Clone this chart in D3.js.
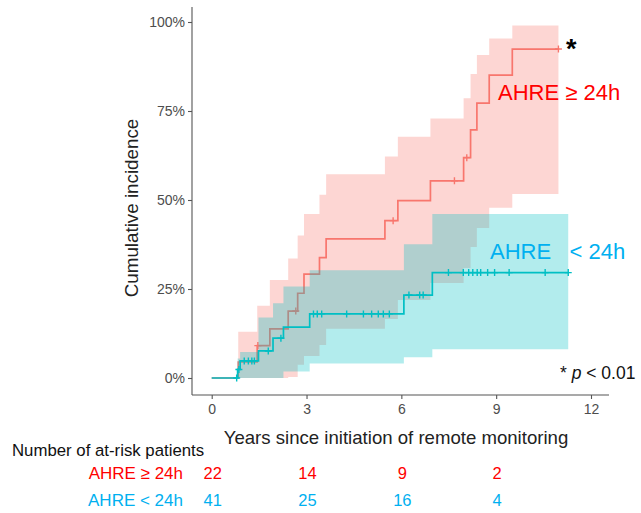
<!DOCTYPE html>
<html>
<head>
<meta charset="utf-8">
<script src="https://cdn.jsdelivr.net/npm/d3@7"></script>
<style>
  body { margin: 0; background: #fff; }
  svg { font-family: Arial, "Liberation Sans", sans-serif; }
</style>
</head>
<body>
<svg id="chart" width="641" height="513"></svg>
<script>
// AHRE >= 24h : step times (years) and cumulative incidence (%)
var redTime  = [0, 0.84, 1.44, 1.84, 2.42, 2.72, 2.92, 3.41, 3.62, 5.48, 5.89, 6.92, 7.97, 8.19, 8.39, 8.78, 9.51, 10.97]
var redEst   = [0, 4.5, 9.1, 13.8, 18.8, 23.8, 29.2, 33.8, 39.1, 44.2, 49.8, 55.4, 61.9, 69.7, 77.2, 85.1, 92.4, 92.4]
var redUpper = [0, 13.0, 20.3, 27.5, 33.6, 40.0, 46.1, 51.5, 57.2, 62.2, 67.8, 72.9, 78.6, 85.4, 90.7, 95.4, 99.0, 99.0]
var redLower = [0, 0, 0, 0, 0.3, 3.7, 6.2, 9.3, 13.8, 16.6, 21.9, 26.7, 30.9, 36.8, 42.1, 47.8, 51.7, 51.7]
var redCensor = [1.46, 2.66, 5.74, 7.68, 8.07, 10.97]

// AHRE < 24h
var tealTime  = [0, 0.82, 0.90, 1.48, 1.94, 2.27, 3.10, 6.08, 6.98, 11.28]
var tealEst   = [0, 2.4, 4.8, 7.6, 11.2, 14.3, 18.0, 23.3, 29.6, 29.6]
var tealUpper = [0, 5.5, 7.3, 17.0, 21.0, 25.7, 30.3, 37.6, 46.1, 46.1]
var tealLower = [0, 0, 0, 0, 0, 1.8, 4.1, 5.8, 8.1, 8.1]
var tealCensor = [0.79, 0.86, 1.03, 1.16, 1.27, 1.35, 1.79, 2.19, 3.22, 3.34, 3.48, 4.27, 4.80, 5.06,
                  5.27, 5.43, 5.62, 6.24, 6.58, 6.69, 7.49, 7.96, 8.13, 8.26, 8.40, 8.51, 8.73, 8.95,
                  9.41, 10.55, 11.28]

var xTicks = [0, 3, 6, 9, 12]
var yTicks = [0, 25, 50, 75, 100]
var riskTimes = [0, 3, 6, 9]
var riskRed  = [22, 14, 9, 2]
var riskTeal = [41, 25, 16, 4]

var svg = d3.select("#chart")

var panel = {left: 192, right: 609, top: 7, bottom: 395}
var x = d3.scaleLinear().domain([0, 12]).range([211.7, 591])
var y = d3.scaleLinear().domain([0, 100]).range([378, 22])

function rows(time, est, lo, hi) {
  return time.map(function(t, i) { return {t: t, est: est[i], lo: lo[i], hi: hi[i]} })
}
var groups = [
  {rows: rows(redTime, redEst, redLower, redUpper), censor: redCensor, color: "#F8766D"},
  {rows: rows(tealTime, tealEst, tealLower, tealUpper), censor: tealCensor, color: "#00BFC4"}
]

var band = d3.area().curve(d3.curveStepAfter)
  .x(function(d) { return x(d.t) })
  .y0(function(d) { return y(d.lo) })
  .y1(function(d) { return y(d.hi) })
var step = d3.line().curve(d3.curveStepAfter)
  .x(function(d) { return x(d.t) })
  .y(function(d) { return y(d.est) })
var bis = d3.bisector(function(d) { return d.t }).right

groups.forEach(function(g) {
  svg.append("path").attr("d", band(g.rows))
    .attr("fill", g.color).attr("fill-opacity", 0.3)
  svg.append("path").attr("d", step(g.rows))
    .attr("fill", "none").attr("stroke", g.color).attr("stroke-width", 1.7)
  svg.append("g").selectAll("path")
    .data(g.censor)
   .enter().append("path")
    .attr("transform", function(t) {
      var r = g.rows[Math.max(0, bis(g.rows, t) - 1)]
      return "translate(" + x(t) + "," + y(r.est) + ")"
    })
    .attr("d", "M-3.5,0H3.5M0,-3.5V3.5")
    .attr("stroke", g.color).attr("stroke-width", 1.4)
})

// axes
var axisCol = "#555"
svg.append("line").attr("x1", panel.left).attr("x2", panel.left)
  .attr("y1", panel.top).attr("y2", panel.bottom).attr("stroke", axisCol).attr("stroke-width", 1.1)
svg.append("line").attr("x1", panel.left).attr("x2", panel.right)
  .attr("y1", panel.bottom).attr("y2", panel.bottom).attr("stroke", axisCol).attr("stroke-width", 1.1)

var gy = svg.append("g").attr("transform", "translate(" + panel.left + ",0)")
  .call(d3.axisLeft(y).tickValues(yTicks).tickSize(4).tickPadding(3)
    .tickFormat(function(d) { return d + "%" }))
var gx = svg.append("g").attr("transform", "translate(0," + panel.bottom + ")")
  .call(d3.axisBottom(x).tickValues(xTicks).tickSize(4).tickPadding(5))
;[gx, gy].forEach(function(g) {
  g.select(".domain").remove()
  g.selectAll(".tick line").attr("stroke", axisCol).attr("stroke-width", 1.1)
  g.selectAll(".tick text").attr("fill", "#4D4D4D").style("font-size", "14px")
    .style("font-family", "Arial, 'Liberation Sans', sans-serif")
})

svg.append("text")
  .attr("transform", "translate(138,208) rotate(-90)")
  .attr("text-anchor", "middle").style("font-size", "18.8px").attr("fill", "#222")
  .text("Cumulative incidence")
svg.append("text")
  .attr("x", 396).attr("y", 444).attr("text-anchor", "middle")
  .style("font-size", "18.6px").attr("fill", "#222")
  .text("Years since initiation of remote monitoring")

// in-plot annotations
svg.append("text").attr("x", 566).attr("y", 58)
  .style("font-size", "27px").style("font-weight", "bold").text("*")
svg.append("text").attr("x", 498).attr("y", 100)
  .style("font-size", "22px").attr("fill", "#FF0000").text("AHRE \u2265 24h")
svg.append("text").attr("x", 490).attr("y", 259).style("white-space", "pre")
  .style("font-size", "22px").attr("fill", "#00B0F0").text("AHRE   < 24h")
var pt = svg.append("text").attr("x", 560).attr("y", 379).style("font-size", "17.5px").attr("fill", "#111")
pt.append("tspan").text("* ")
pt.append("tspan").style("font-style", "italic").text("p")
pt.append("tspan").text(" < 0.01")

// risk table
svg.append("text").attr("x", 12).attr("y", 456).style("font-size", "16.8px").attr("fill", "#111")
  .text("Number of at-risk patients")
var riskRows = [
  {label: "AHRE \u2265 24h", values: riskRed, color: "#FF0000", y: 479},
  {label: "AHRE < 24h", values: riskTeal, color: "#00B0F0", y: 506}
]
riskRows.forEach(function(r) {
  svg.append("text").attr("x", 183).attr("y", r.y).attr("text-anchor", "end")
    .style("font-size", "17px").attr("fill", r.color).text(r.label)
  svg.append("g").selectAll("text")
    .data(r.values)
   .enter().append("text")
    .attr("x", function(d, i) { return x(riskTimes[i]) + 1 })
    .attr("y", r.y).attr("text-anchor", "middle")
    .style("font-size", "16.5px").attr("fill", r.color)
    .text(function(d) { return d })
})
</script>
</body>
</html>
